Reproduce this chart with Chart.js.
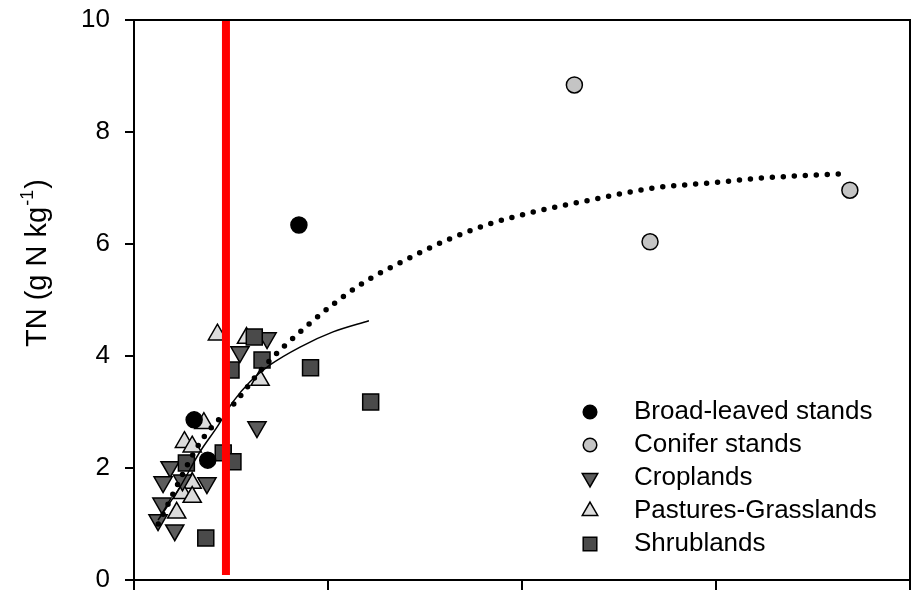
<!DOCTYPE html>
<html>
<head>
<meta charset="utf-8">
<script src="https://cdn.jsdelivr.net/npm/chart.js@4/dist/chart.umd.min.js"></script>
<style>
  html, body { margin: 0; padding: 0; background: #fff; }
  #wrap { width: 915px; height: 594px; }
</style>
</head>
<body>
<div id="wrap"><canvas id="tnChart" width="915" height="594"></canvas></div>
<script>
// x axis has no tick labels in the original, so an arbitrary 0..4 range is used
const xTicks = [0, 1, 2, 3, 4];
const yTicks = [0, 2, 4, 6, 8, 10];
const yTitle = "TN (g N kg";
const yTitleSup = "-1";

const broadX = [0.31, 0.38, 0.85];
const broadY = [2.86, 2.14, 6.34];

const coniferX = [2.27, 2.66, 3.69];
const coniferY = [8.84, 6.04, 6.96];

const cropX = [0.546, 0.686, 0.634, 0.186, 0.150, 0.250, 0.376, 0.144, 0.124, 0.210];
const cropY = [4.07, 4.32, 2.73, 2.02, 1.75, 1.78, 1.73, 1.37, 1.07, 0.89];

const pastureX = [0.43, 0.58, 0.65, 0.36, 0.26, 0.30, 0.30, 0.25, 0.30, 0.22];
const pastureY = [4.38, 4.32, 3.57, 2.80, 2.46, 2.38, 1.73, 1.55, 1.48, 1.20];

const shrubX = [0.62, 0.50, 0.66, 0.46, 0.51, 0.27, 0.37, 0.91, 1.22];
const shrubY = [4.34, 3.75, 3.93, 2.27, 2.11, 2.09, 0.75, 3.79, 3.18];

// fitted curves
const dottedX = [0.125, 0.34, 0.531, 0.665, 0.892, 1.165, 1.392, 1.613, 1.835, 2.057, 2.402, 2.675, 2.969, 3.242, 3.639];
const dottedY = [1.00, 2.45, 3.21, 3.79, 4.54, 5.27, 5.70, 6.07, 6.36, 6.57, 6.82, 7.00, 7.09, 7.18, 7.25];

const solidX = [0.124, 0.237, 0.34, 0.428, 0.51, 0.598, 0.701, 0.856, 1.026, 1.211];
const solidY = [1.07, 1.66, 2.29, 2.73, 3.18, 3.54, 3.84, 4.16, 4.43, 4.63];

const cutoffX = 0.474;
const cutoffY = [0.09, 10];

const legendItems = ["Broad-leaved stands", "Conifer stands", "Croplands", "Pastures-Grasslands", "Shrublands"];

const FONT = "'Liberation Sans', Arial, sans-serif";

const toPoints = (xs, ys) => xs.map((x, i) => ({ x: x, y: ys[i] }));

const markerStyles = [
  { pointStyle: "circle", radius: 8, rotation: 0, fill: "#000000" },
  { pointStyle: "circle", radius: 8, rotation: 0, fill: "#c4c4c4" },
  { pointStyle: "triangle", radius: 10.5, rotation: 180, fill: "#5c5c5c" },
  { pointStyle: "triangle", radius: 10.5, rotation: 0, fill: "#dcdcdc" },
  { pointStyle: "rect", radius: 11.3, rotation: 0, fill: "#4a4a4a" },
];

const scatterSet = (label, xs, ys, style, order) => ({
  label: label,
  data: toPoints(xs, ys),
  pointStyle: style.pointStyle,
  pointRadius: style.radius,
  pointRotation: style.rotation,
  backgroundColor: style.fill,
  borderColor: "#000000",
  borderWidth: 1.5,
  order: order,
});

// chart.js adds label overhang on top of layout padding, drop it so the box lands where it should
const noScalePadding = (scale) => {
  scale.paddingTop = 0;
  scale.paddingBottom = 0;
  scale.paddingLeft = 0;
  scale.paddingRight = 0;
};

// frame on top/right plus a hand-placed legend inside the plot area
const framePlugin = {
  id: "frameAndLegend",
  afterDatasetsDraw(chart) {
    const { ctx, chartArea } = chart;
    ctx.save();
    ctx.strokeStyle = "#000";
    ctx.lineWidth = 2;
    ctx.beginPath();
    ctx.moveTo(chartArea.left, chartArea.top);
    ctx.lineTo(chartArea.right, chartArea.top);
    ctx.lineTo(chartArea.right, chartArea.bottom);
    ctx.stroke();

    const markX = 590, textX = 634, rowY = [412, 445, 478, 511, 544];
    legendItems.forEach((name, i) => {
      const st = markerStyles[i];
      ctx.fillStyle = st.fill;
      ctx.strokeStyle = "#000";
      ctx.lineWidth = 1.5;
      Chart.helpers.drawPoint(ctx, {
        pointStyle: st.pointStyle,
        radius: st.radius * 0.85,
        rotation: st.rotation,
        borderWidth: 1.5,
      }, markX, rowY[i]);
      ctx.fillStyle = "#000";
      ctx.font = "26px " + FONT;
      ctx.textBaseline = "middle";
      ctx.textAlign = "left";
      ctx.fillText(name, textX, rowY[i]);
    });
    ctx.restore();
  },
  afterDraw(chart) {
    // y axis title with superscript
    const { ctx } = chart;
    ctx.save();
    ctx.translate(46, 347);
    ctx.rotate(-Math.PI / 2);
    ctx.fillStyle = "#000";
    ctx.textBaseline = "alphabetic";
    ctx.textAlign = "left";
    ctx.font = "29px " + FONT;
    ctx.fillText(yTitle, 0, 0);
    let w = ctx.measureText(yTitle).width;
    ctx.font = "18px " + FONT;
    ctx.fillText(yTitleSup, w + 1, -13);
    w += ctx.measureText(yTitleSup).width + 2;
    ctx.font = "29px " + FONT;
    ctx.fillText(")", w, 0);
    ctx.restore();
  },
};

const context = document.getElementById("tnChart").getContext("2d");

new Chart(context, {
  type: "scatter",
  data: {
    datasets: [
      {
        label: "cutoff",
        data: cutoffY.map(y => ({ x: cutoffX, y: y })),
        showLine: true,
        borderColor: "#ff0000",
        borderWidth: 8,
        borderCapStyle: "butt",
        pointRadius: 0,
        order: 0,
      },
      {
        label: "fit all",
        data: toPoints(dottedX, dottedY),
        showLine: true,
        borderColor: "#000",
        borderWidth: 5.5,
        borderDash: [0, 11],
        borderCapStyle: "round",
        cubicInterpolationMode: "monotone",
        pointRadius: 0,
        order: 1,
      },
      {
        label: "fit non-forest",
        data: toPoints(solidX, solidY),
        showLine: true,
        borderColor: "#000",
        borderWidth: 1.5,
        cubicInterpolationMode: "monotone",
        pointRadius: 0,
        order: 1,
      },
      scatterSet(legendItems[0], broadX, broadY, markerStyles[0], 2),
      scatterSet(legendItems[1], coniferX, coniferY, markerStyles[1], 2),
      scatterSet(legendItems[2], cropX, cropY, markerStyles[2], 3),
      scatterSet(legendItems[3], pastureX, pastureY, markerStyles[3], 3),
      scatterSet(legendItems[4], shrubX, shrubY, markerStyles[4], 2),
    ],
  },
  options: {
    responsive: false,
    animation: false,
    layout: {
      autoPadding: false,
      padding: { top: 20, right: 5, left: 0, bottom: 0 },
    },
    plugins: {
      legend: { display: false },
      tooltip: { enabled: false },
    },
    scales: {
      x: {
        type: "linear",
        min: xTicks[0],
        max: xTicks[xTicks.length - 1],
        afterBuildTicks: (scale) => {
          scale.ticks = xTicks.map(v => ({ value: v }));
        },
        ticks: { display: false },
        grid: {
          drawOnChartArea: false,
          drawTicks: true,
          tickLength: 10,
          color: "#000",
          lineWidth: 2,
        },
        border: { display: true, color: "#000", width: 2 },
        afterFit: (scale) => {
          scale.height = 14;
          noScalePadding(scale);
        },
      },
      y: {
        type: "linear",
        min: yTicks[0],
        max: yTicks[yTicks.length - 1],
        afterBuildTicks: (scale) => {
          scale.ticks = yTicks.map(v => ({ value: v }));
        },
        ticks: {
          color: "#000",
          padding: 15,
          font: { family: FONT, size: 26 },
        },
        grid: {
          drawOnChartArea: false,
          drawTicks: true,
          tickLength: 9,
          color: "#000",
          lineWidth: 2,
        },
        border: { display: true, color: "#000", width: 2 },
        afterFit: (scale) => {
          scale.width = 134;
          noScalePadding(scale);
        },
      },
    },
  },
  plugins: [framePlugin],
});
</script>
</body>
</html>
